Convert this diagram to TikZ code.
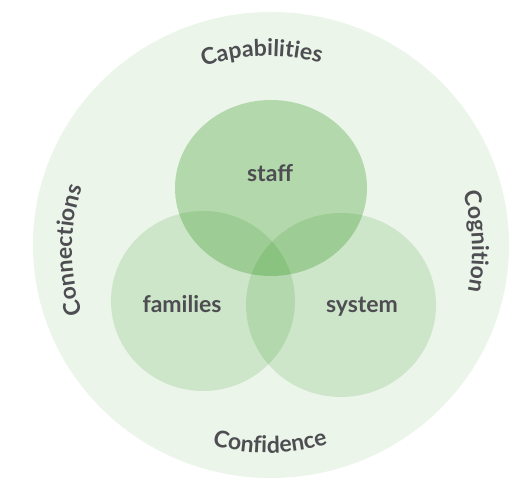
\documentclass[tikz,border=0pt]{standalone}
\usepackage{fontspec}
\setmainfont{Lato}
\usetikzlibrary{decorations.text,calc}
\definecolor{bgcirc}{RGB}{235,245,234}
\definecolor{blob}{RGB}{28,138,6}
\definecolor{txt}{RGB}{77,77,82}
\begin{document}
\begin{tikzpicture}[x=1pt,y=1pt,
  lbl/.style={font=\fontsize{23}{23}\selectfont\bfseries, text=txt, inner sep=0pt},
  arclbl/.style={decorate, decoration={text along path, text align=center,
     text={|\fontsize{23}{23}\selectfont\bfseries\color{txt}|#1}}}
]
\useasboundingbox (0,0) rectangle (524,479);
\coordinate (C) at (268,229);
\fill[bgcirc] (271,234) ellipse [x radius=238pt, y radius=233pt];
\fill[blob, opacity=0.14] (203,178) ellipse [x radius=92pt, y radius=90pt];
\fill[blob, opacity=0.14] (341,174) ellipse [x radius=95pt, y radius=92pt];
\fill[blob, opacity=0.27] (271,291) ellipse [x radius=96pt, y radius=88pt];
\node[lbl, anchor=base] (staff) at (270,297) {staff};
\node[lbl, anchor=base] (families) at (182,166) {families};
\node[lbl, anchor=base] (system) at (362,166) {system};
\path[arclbl=Capabilities] ($(C)+(151.8:194pt)$) arc[start angle=151.8, end angle=31.8, radius=194pt];
\path[arclbl=Connections] ($(C)+(240:196pt)$) arc[start angle=240, end angle=120, radius=196pt];
\path[arclbl=Cognition] ($(C)+(62.3:204pt)$) arc[start angle=62.3, end angle=-57.7, radius=204pt];
\path[arclbl=Confidence] ($(C)+(210.6:203pt)$) arc[start angle=210.6, end angle=330.6, radius=203pt];
\end{tikzpicture}
\end{document}
